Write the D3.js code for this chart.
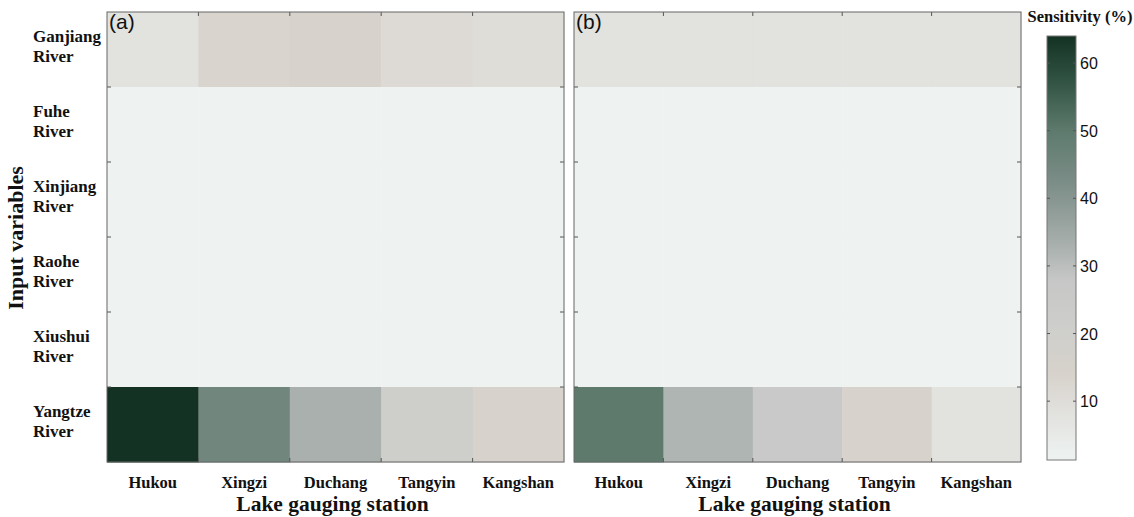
<!DOCTYPE html>
<html>
<head>
<meta charset="utf-8">
<script src="https://cdn.jsdelivr.net/npm/d3@7"></script>
<style>
  body { margin: 0; background: #fff; }
  svg { display: block; }
</style>
</head>
<body>
<svg width="1134" height="517"></svg>
<script>
const stations = ["Hukou", "Xingzi", "Duchang", "Tangyin", "Kangshan"];
const inputs = ["Ganjiang River", "Fuhe River", "Xinjiang River", "Raohe River", "Xiushui River", "Yangtze River"];

// sensitivity (%) per input row, one value per station
const sensA = [
  [8, 13, 14, 11, 10],
  [1.3, 1.3, 1.3, 1.3, 1.3],
  [1.3, 1.3, 1.3, 1.3, 1.3],
  [1.3, 1.3, 1.3, 1.3, 1.3],
  [1.3, 1.3, 1.3, 1.3, 1.3],
  [64, 45, 33, 21, 14]
];
const sensB = [
  [8, 8, 8, 8, 8],
  [1.3, 1.3, 1.3, 1.3, 1.3],
  [1.3, 1.3, 1.3, 1.3, 1.3],
  [1.3, 1.3, 1.3, 1.3, 1.3],
  [1.3, 1.3, 1.3, 1.3, 1.3],
  [50, 32, 26, 14, 8]
];
const cbarTicks = [10, 20, 30, 40, 50, 60];

const cmapStops = [1.3, 8, 14, 20, 28, 33, 42, 50, 58, 64];
const cmapColors = ["#eef3f1", "#e2e2df", "#d7d2cb", "#cfcfcc", "#c6c7c6", "#a9b0ad", "#7d8e88", "#5d7a6d", "#2e5040", "#143223"];
const color = d3.scaleLinear().domain(cmapStops).range(cmapColors).interpolate(d3.interpolateRgb).clamp(true);

const svg = d3.select("svg");
const serif = "'Liberation Serif', 'Times New Roman', serif";
const sans = "'Liberation Sans', Arial, sans-serif";

const yScale = d3.scaleBand().domain(inputs).range([12, 462]);

const panels = [
  { tag: "(a)", data: sensA, x0: 107, x1: 564 },
  { tag: "(b)", data: sensB, x0: 574, x1: 1021 }
];

panels.forEach(p => {
  const xScale = d3.scaleBand().domain(stations).range([p.x0, p.x1]);
  const g = svg.append("g");
  const cells = [];
  p.data.forEach((row, i) => row.forEach((v, j) => cells.push({ r: inputs[i], c: stations[j], v })));
  g.selectAll("rect.cell").data(cells).enter().append("rect")
    .attr("class", "cell")
    .attr("x", d => xScale(d.c))
    .attr("y", d => yScale(d.r))
    .attr("width", xScale.bandwidth() + 0.5)
    .attr("height", yScale.bandwidth() + 0.5)
    .attr("fill", d => color(d.v));

  // inner ticks at band boundaries
  const tk = 4;
  const xb = stations.slice(1).map(s => xScale(s));
  const yb = inputs.slice(1).map(s => yScale(s));
  xb.forEach(x => {
    g.append("line").attr("x1", x).attr("x2", x).attr("y1", 12).attr("y2", 12 + tk).attr("stroke", "#555");
    g.append("line").attr("x1", x).attr("x2", x).attr("y1", 462).attr("y2", 462 - tk).attr("stroke", "#555");
  });
  yb.forEach(y => {
    g.append("line").attr("x1", p.x0).attr("x2", p.x0 + tk).attr("y1", y).attr("y2", y).attr("stroke", "#555");
    g.append("line").attr("x1", p.x1).attr("x2", p.x1 - tk).attr("y1", y).attr("y2", y).attr("stroke", "#555");
  });

  g.append("rect").attr("x", p.x0).attr("y", 12).attr("width", p.x1 - p.x0).attr("height", 450)
    .attr("fill", "none").attr("stroke", "#666").attr("stroke-width", 1);

  g.append("text").attr("x", p.x0 + 2).attr("y", 29).text(p.tag)
    .attr("font-family", sans).attr("font-size", 21).attr("fill", "#111");

  g.selectAll("text.xl").data(stations).enter().append("text")
    .attr("class", "xl")
    .attr("x", d => xScale(d) + xScale.bandwidth() / 2)
    .attr("y", 488)
    .attr("text-anchor", "middle")
    .attr("font-family", serif).attr("font-weight", "bold").attr("font-size", 16.5)
    .attr("fill", "#111")
    .text(d => d);

  g.append("text").attr("x", (p.x0 + p.x1) / 2 - 3).attr("y", 511)
    .attr("text-anchor", "middle")
    .attr("font-family", serif).attr("font-weight", "bold").attr("font-size", 21.5)
    .attr("fill", "#111")
    .text("Lake gauging station");
});

// row labels
inputs.forEach(name => {
  const parts = name.split(" ");
  const cy = yScale(name) + yScale.bandwidth() / 2;
  const t = svg.append("text")
    .attr("font-family", serif).attr("font-weight", "bold").attr("font-size", 17)
    .attr("fill", "#111");
  t.append("tspan").attr("x", 33).attr("y", cy - 8).text(parts[0]);
  t.append("tspan").attr("x", 33).attr("y", cy + 12).text(parts[1]);
});

svg.append("text")
  .attr("transform", "translate(23,238) rotate(-90)")
  .attr("text-anchor", "middle")
  .attr("font-family", serif).attr("font-weight", "bold").attr("font-size", 22)
  .attr("fill", "#111")
  .text("Input variables");

// colorbar
const cb = { x: 1047, w: 29, top: 36, bottom: 460 };
const cScale = d3.scaleLinear().domain([1.3, 64]).range([cb.bottom, cb.top]);
const defs = svg.append("defs");
const grad = defs.append("linearGradient").attr("id", "cbg")
  .attr("x1", 0).attr("y1", 1).attr("x2", 0).attr("y2", 0);
grad.selectAll("stop").data(cmapStops).enter().append("stop")
  .attr("offset", d => (d - 1.3) / (64 - 1.3))
  .attr("stop-color", d => color(d));
svg.append("rect").attr("x", cb.x).attr("y", cb.top).attr("width", cb.w).attr("height", cb.bottom - cb.top)
  .attr("fill", "url(#cbg)").attr("stroke", "#777");
const cg = svg.append("g");
cbarTicks.forEach(v => {
  const y = cScale(v);
  cg.append("line").attr("x1", cb.x).attr("x2", cb.x + 3).attr("y1", y).attr("y2", y).attr("stroke", "#555");
  cg.append("line").attr("x1", cb.x + cb.w).attr("x2", cb.x + cb.w - 3).attr("y1", y).attr("y2", y).attr("stroke", "#555");
  cg.append("text").attr("x", cb.x + cb.w + 4).attr("y", y + 6)
    .attr("font-family", sans).attr("font-size", 16).attr("fill", "#111").text(v);
});
svg.append("text").attr("x", 1080).attr("y", 22).attr("text-anchor", "middle")
  .attr("font-family", serif).attr("font-weight", "bold").attr("font-size", 16.5)
  .attr("fill", "#111").text("Sensitivity (%)");
</script>
</body>
</html>
